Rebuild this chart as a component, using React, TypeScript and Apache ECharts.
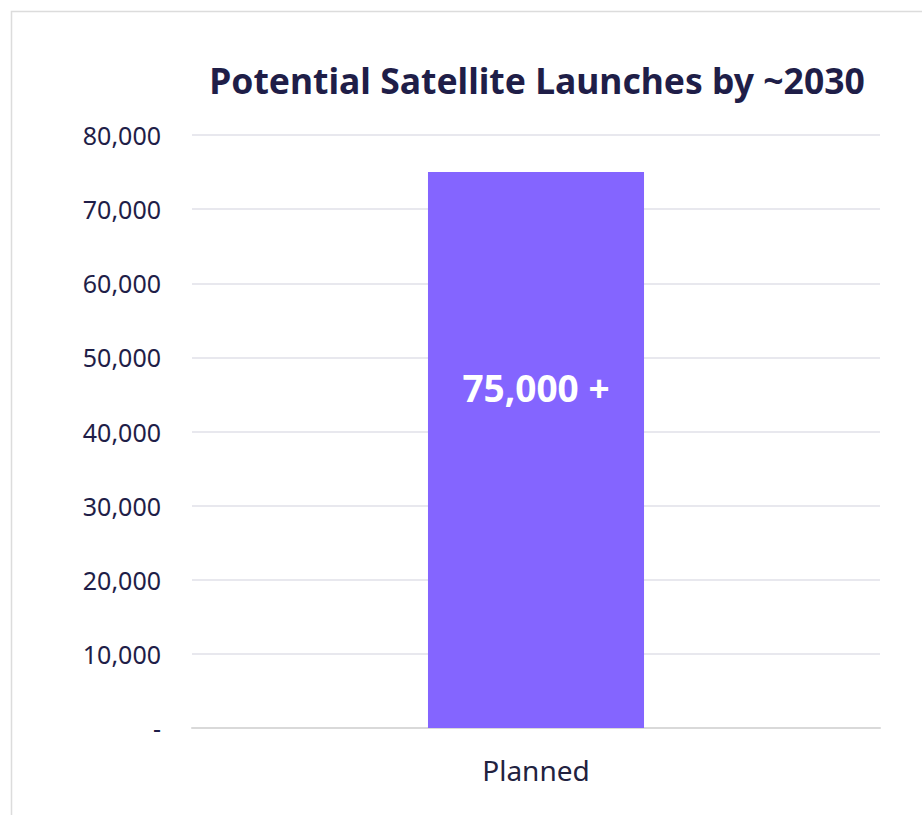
import React, { useEffect, useRef } from "react";
import * as echarts from "echarts";

const categories = ["Planned"];
const values = [75000];
const barLabels = ["75,000 +"];
const titleText = "Potential Satellite Launches by ~2030";

export default function App() {
  const ref = useRef<HTMLDivElement>(null);
  useEffect(() => {
    if (!ref.current) return;
    const chart = echarts.init(ref.current, null, { renderer: "svg" });
    chart.setOption({
      animation: false,
      backgroundColor: "#ffffff",
      title: {
        text: titleText,
        left: 532,
        top: 57,
        textAlign: "center",
        textStyle: {
          fontFamily: "Noto Sans",
          fontWeight: "bold",
          fontSize: 35.5,
          color: "#1f1e48",
        },
      },
      graphic: [
        {
          type: "rect",
          shape: { x: 11.5, y: 11.5, width: 1000, height: 1000 },
          style: { fill: "none", stroke: "#dcdcdc", lineWidth: 1.5 },
          silent: true,
        },
      ],
      grid: { left: 192, right: 42, top: 135, bottom: 87 },
      xAxis: {
        type: "category",
        data: categories,
        axisLine: { show: true, lineStyle: { color: "#d9d9d9", width: 2 } },
        axisTick: { show: false },
        axisLabel: {
          margin: 28,
          fontFamily: "Noto Sans",
          fontSize: 28,
          color: "#222240",
        },
      },
      yAxis: {
        type: "value",
        min: 0,
        max: 80000,
        interval: 10000,
        axisLine: { show: false },
        axisTick: { show: false },
        splitLine: { lineStyle: { color: "#e0e0e8", width: 1.5 } },
        axisLabel: {
          margin: 31,
          fontFamily: "Noto Sans",
          fontSize: 25,
          color: "#1f1e48",
          formatter: (v: number) => (v === 0 ? "-" : v.toLocaleString("en-US")),
        },
      },
      series: [
        {
          type: "bar",
          data: values,
          barWidth: "31.4%",
          itemStyle: { color: "#8465ff" },
          label: {
            show: true,
            position: ["50%", 215],
            align: "center",
            verticalAlign: "middle",
            formatter: (p: any) => barLabels[p.dataIndex],
            color: "#ffffff",
            fontFamily: "Noto Sans",
            fontWeight: "bold",
            fontSize: 37,
          },
        },
      ],
    });
    return () => chart.dispose();
  }, []);
  return (
    <div
      ref={ref}
      style={{ position: "fixed", left: 0, top: 0, width: 922, height: 815 }}
    />
  );
}
